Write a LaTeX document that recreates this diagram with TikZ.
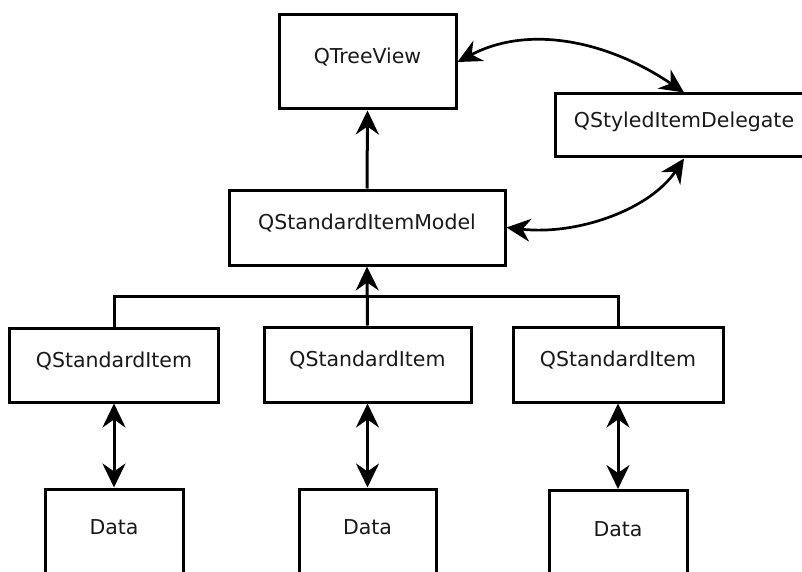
\documentclass[tikz,border=0pt]{standalone}
\usepackage{fontspec}
\setmainfont{DejaVu Sans}
\usetikzlibrary{arrows.meta}
\begin{document}
\begin{tikzpicture}[x=1pt,y=-1pt,
  >={Stealth[length=24pt,width=23pt,inset=8pt]},
  box/.style={draw=black, line width=3pt, rectangle, inner sep=0pt,
    text height=4pt, text depth=0pt,
    font=\fontsize{20.5}{24}\selectfont, text=black!90},
  conn/.style={line width=3pt},
  curv/.style={line width=2.7pt}
]
\useasboundingbox (0,0) rectangle (802,572);
% boxes
\node[box, minimum width=177pt, minimum height=94pt] (tv) at (367.5,62) {QTreeView};
\node[box, minimum width=258pt, minimum height=63pt] (sid) at (684,125.5) {QStyledItemDelegate};
\node[box, minimum width=276pt, minimum height=75pt] (sim) at (367,227.5) {QStandardItemModel};
\node[box, minimum width=209pt, minimum height=74pt] (si1) at (114,365) {QStandardItem};
\node[box, minimum width=207pt, minimum height=75pt] (si2) at (367.5,364.5) {QStandardItem};
\node[box, minimum width=210pt, minimum height=75pt] (si3) at (618,364.5) {QStandardItem};
\node[box, minimum width=138pt, minimum height=87pt] (d1) at (114,532.5) {Data};
\node[box, minimum width=137pt, minimum height=87pt] (d2) at (367.5,532.5) {Data};
\node[box, minimum width=138pt, minimum height=87pt] (d3) at (618,534) {Data};
% connectors
\coordinate (bus) at (367.5,296);
\draw[conn] (si1.north) |- (bus) -| (si3.north);
\draw[conn,->] (si2.north) -- (sim.south);
\draw[conn,->] (sim.north) -- (tv.south);
\draw[conn,<->] (si1.south) -- (d1.north);
\draw[conn,<->] (si2.south) -- (d2.north);
\draw[conn,<->] (si3.south) -- (d3.north);
\draw[curv,<->] (tv.east) .. controls +(72,-38) and +(-75,-51) .. (sid.north);
\draw[curv,<->] (sid.south) .. controls +(-34,51) and +(71,8) .. (sim.east);
\end{tikzpicture}
\end{document}
